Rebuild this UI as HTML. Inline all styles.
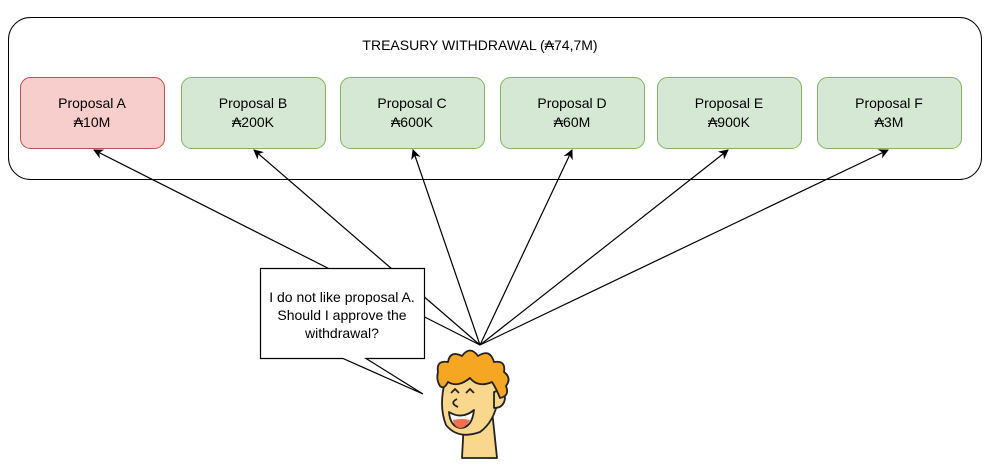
<!DOCTYPE html>
<html><head><meta charset="utf-8"><style>
body{margin:0;background:#fff;}
svg text{font-family:"Liberation Sans","DejaVu Sans",sans-serif;font-size:14px;fill:#000;}
</style></head><body>
<svg width="996" height="468" viewBox="0 0 996 468" xmlns="http://www.w3.org/2000/svg">
<defs><marker id="ah" markerWidth="10" markerHeight="10" refX="9" refY="5" orient="auto" markerUnits="userSpaceOnUse"><path d="M0,0 L10,5 L0,10 L3,5 z" fill="#000"/></marker></defs>
<rect x="8.5" y="17.5" width="973" height="162" rx="22" fill="#fff" stroke="#000" stroke-width="1"/>
<text x="480" y="50" text-anchor="middle" font-size="13">TREASURY WITHDRAWAL (₳74,7M)</text>
<rect x="20.5" y="77.5" width="144" height="71" rx="10" fill="#f8cecc" stroke="#b85450"/>
<rect x="181.5" y="77.5" width="144" height="71" rx="10" fill="#d5e8d4" stroke="#82b366"/>
<rect x="340.5" y="77.5" width="144" height="71" rx="10" fill="#d5e8d4" stroke="#82b366"/>
<rect x="500.5" y="77.5" width="144" height="71" rx="10" fill="#d5e8d4" stroke="#82b366"/>
<rect x="657.5" y="77.5" width="144" height="71" rx="10" fill="#d5e8d4" stroke="#82b366"/>
<rect x="817.5" y="77.5" width="144" height="71" rx="10" fill="#d5e8d4" stroke="#82b366"/>
<g text-anchor="middle">
<text x="92" y="108">Proposal A</text><text x="92" y="127">₳10M</text>
<text x="253" y="108">Proposal B</text><text x="253" y="127">₳200K</text>
<text x="412" y="108">Proposal C</text><text x="412" y="127">₳600K</text>
<text x="572" y="108">Proposal D</text><text x="572" y="127">₳60M</text>
<text x="729" y="108">Proposal E</text><text x="729" y="127">₳900K</text>
<text x="889" y="108">Proposal F</text><text x="889" y="127">₳3M</text>
</g>
<g stroke="#000" stroke-width="1.2" fill="none" marker-end="url(#ah)">
<line x1="480" y1="345" x2="94" y2="150"/>
<line x1="480" y1="345" x2="254" y2="150"/>
<line x1="480" y1="345" x2="413" y2="150"/>
<line x1="480" y1="345" x2="572" y2="150"/>
<line x1="480" y1="345" x2="728" y2="150"/>
<line x1="480" y1="345" x2="888" y2="150"/>
</g>
<path d="M260.5,268.5 H424.5 V358.5 H366 L423,394 L343,358.5 H260.5 Z" fill="#fff" stroke="#000" stroke-width="1.2"/>
<g text-anchor="middle" font-size="13">
<text x="342" y="302">I do not like proposal A.</text>
<text x="342" y="320">Should I approve the</text>
<text x="342" y="338">withdrawal?</text>
</g>
<!-- character -->
<g stroke="#222" stroke-width="1.8" stroke-linejoin="round">
<path d="M464,420 L462,458 L497,458 L492,410 Z" fill="#f9d88e"/>
<path d="M446,378 Q438,405 446,425 Q458,440 480,432 Q494,422 498,400 L496,378 Z" fill="#f9d88e"/>
<path d="M494,392 Q504,388 505,398 Q504,408 494,408 Z" fill="#f9d88e"/>
<path d="M438,372 Q436,360 448,362 Q450,350 462,356 Q470,345 478,356 Q490,348 494,362 Q506,360 504,372 Q512,378 506,386 Q510,396 500,398 Q496,388 492,382 Q478,388 470,378 Q458,388 448,382 Q444,390 440,386 Q436,380 438,372 Z" fill="#f5a623"/>
<path d="M449,412 Q462,420 474,410 Q472,428 460,428 Q450,426 449,412 Z" fill="#fff"/>
<path d="M453,420 Q462,418 470,420 Q466,428 460,428 Q454,427 453,420 Z" fill="#f07050" stroke="none"/>
<path d="M451,393 L455,389 L459,393" fill="none"/>
<path d="M466,393 L470,389 L474,393" fill="none"/>
<path d="M457,399 Q449,403 458,407" fill="none"/>
</g>
</svg>
</body></html>
